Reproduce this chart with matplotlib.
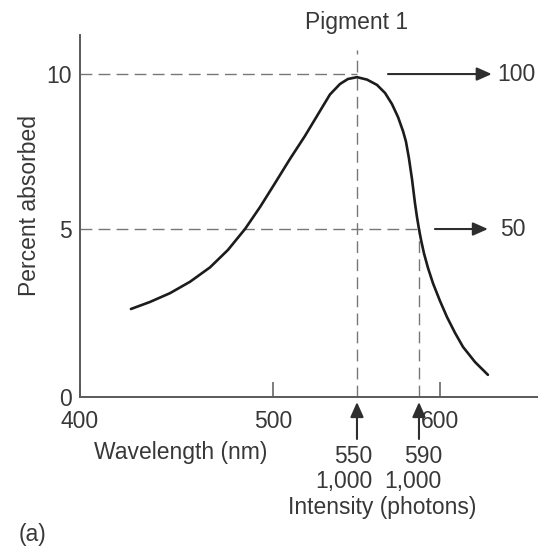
import numpy as np
import matplotlib
matplotlib.use('Agg')
import matplotlib.pyplot as plt

plt.rcParams['font.family'] = ['Liberation Sans', 'DejaVu Sans']

# absorption curve of pigment 1
wavelength = [426.4, 436.3, 446.6, 457.0, 467.4, 476.7, 485.5, 493.3, 501.2, 510.1,
              519.0, 528.0, 533.9, 539.9, 544.6, 550.0, 556.5, 562.9, 568.1, 572.6,
              576.5, 579.7, 581.6, 583.5, 585.5, 587.4, 588.7, 590.0, 591.0, 592.4,
              594.3, 596.7, 600.0, 604.2, 609.0, 613.8, 621.0, 628.7]
absorbed = [2.62, 2.83, 3.09, 3.43, 3.86, 4.38, 5.0, 5.71, 6.48, 7.26,
            8.0, 8.81, 9.34, 9.68, 9.84, 9.90, 9.82, 9.65, 9.39, 9.03,
            8.61, 8.16, 7.82, 7.29, 6.61, 5.84, 5.39, 5.0, 4.67, 4.27,
            3.84, 3.38, 2.86, 2.38, 1.91, 1.49, 1.04, 0.66]

peak_wl, half_wl = 550, 590
peak_pct, half_pct = 10, 5
out_labels = ['100', '50']
intensity = ['1,000', '1,000']
xticks = [400, 500, 600]
yticks = [0, 5, 10]

# the drawn axes are not evenly spaced, so use a piecewise scale
wl_knots = [300, 400, 500, 550, 590, 600, 800]
wl_px = [-113, 0, 193, 277, 339, 360, 694]
pct_knots = [-10, 0, 5, 10, 20]
pct_px = [-336, 0, 168, 323, 633]

def fwd_x(v): return np.interp(v, wl_knots, wl_px)
def inv_x(v): return np.interp(v, wl_px, wl_knots)
def fwd_y(v): return np.interp(v, pct_knots, pct_px)
def inv_y(v): return np.interp(v, pct_px, pct_knots)

txt = '#383838'
fs = 16.5

fig = plt.figure(figsize=(5.38, 5.48), dpi=100)
ax = fig.add_axes([80/538, 1-397/548, 458/538, 362/548])
ax.set_xscale('function', functions=(fwd_x, inv_x))
ax.set_yscale('function', functions=(fwd_y, inv_y))
ax.set_xlim(400, 658.7)
ax.set_ylim(0, 11.26)

for s in ['top', 'right']:
    ax.spines[s].set_visible(False)
for s in ['left', 'bottom']:
    ax.spines[s].set_color('#5a5a5a')
    ax.spines[s].set_linewidth(1.4)

ax.set_xticks(xticks)
ax.set_xticklabels([str(t) for t in xticks])
ax.set_yticks(yticks)
ax.set_yticklabels([str(t) for t in yticks])
ax.minorticks_off()
ax.tick_params(axis='x', direction='in', length=11, width=1.1, color='#5a5a5a',
               pad=9, labelsize=fs, labelcolor=txt)
ax.tick_params(axis='y', length=0, pad=6, labelsize=fs, labelcolor=txt)

dash = dict(color='#777777', lw=1.0, dashes=(8.5, 4.5))
ax.plot([400, peak_wl], [peak_pct, peak_pct], **dash)
ax.plot([400, half_wl], [half_pct, half_pct], **dash)
ax.plot([peak_wl, peak_wl], [0, 10.77], clip_on=False, **dash)
ax.plot([half_wl, half_wl], [0, half_pct], **dash)

ax.plot(wavelength, absorbed, color='#1c1c1c', lw=1.9, solid_capstyle='round',
        solid_joinstyle='round')

arr = dict(arrowstyle='-|>,head_length=0.45,head_width=0.2', color='#2e2e2e',
           lw=1.5, shrinkA=0, shrinkB=0, mutation_scale=20)

# arrows to the right: fraction absorbed
ax.annotate('', xy=(631, peak_pct), xytext=(570, peak_pct), arrowprops=arr,
            annotation_clip=False)
ax.annotate('', xy=(628.7, half_pct), xytext=(597.6, half_pct), arrowprops=arr,
            annotation_clip=False)
ax.text(634, peak_pct, out_labels[0], ha='left', va='center', fontsize=fs,
        color=txt, clip_on=False)
ax.text(635.9, half_pct, out_labels[1], ha='left', va='center', fontsize=fs,
        color=txt, clip_on=False)

# arrows from below: incident light
for w, lab, xr in [(peak_wl, intensity[0], 559.7), (half_wl, intensity[1], 601.2)]:
    ax.annotate('', xy=(w, -0.15), xytext=(w, -1.25), arrowprops=arr,
                annotation_clip=False)
    ax.text(xr, -1.76, str(w), ha='right', va='center', fontsize=fs, color=txt)
    ax.text(xr, -2.53, lab, ha='right', va='center', fontsize=fs, color=txt)

ax.text(566, -3.30, 'Intensity (photons)', ha='center', va='center', fontsize=fs,
        color=txt)
ax.text(452.3, -1.64, 'Wavelength (nm)', ha='center', va='center', fontsize=fs,
        color=txt)
ax.text(peak_wl, 11.65, 'Pigment 1', ha='center', va='center', fontsize=fs,
        color=txt)
fig.text(30/538, 1-206/548, 'Percent absorbed', rotation=90, ha='center',
         va='center', fontsize=fs, color=txt)
fig.text(32/538, 1-535/548, '(a)', ha='center', va='center', fontsize=fs,
         color=txt)

fig.savefig('out.png', dpi=100)
